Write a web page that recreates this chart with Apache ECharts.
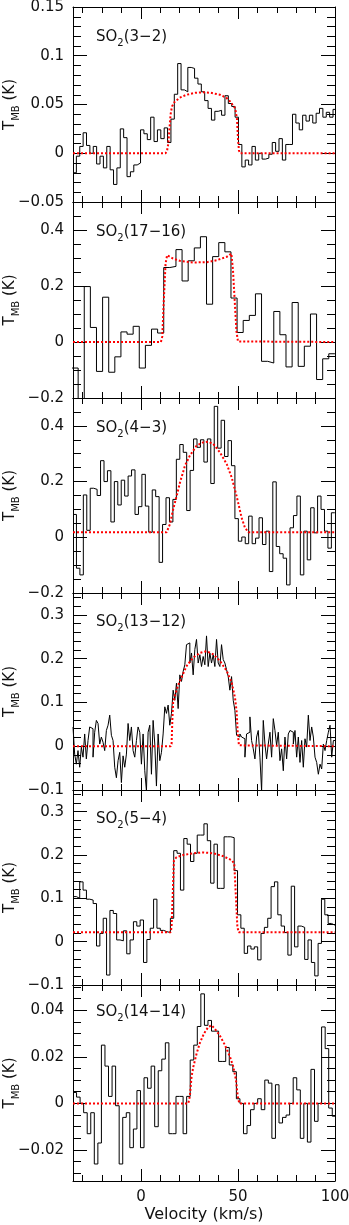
<!DOCTYPE html>
<html>
<head>
<meta charset="utf-8">
<script src="https://cdn.jsdelivr.net/npm/echarts@6/dist/echarts.min.js"></script>
<style>
  html, body { margin: 0; padding: 0; background: #fff; }
  #chart { width: 349px; height: 1225px; }
</style>
</head>
<body>
<div id="chart"></div>
<script>
// channel grid of each spectrum: [left edge of first channel, channel width] (km/s)
const so2_32_grid = [-35, 1.74];
const so2_1716_grid = [-35.5, 3.15];
const so2_43_grid = [-35, 1.775];
const so2_1312_grid = [-35, 0.86];
const so2_54_grid = [-35, 1.73];
const so2_1414_grid = [-35, 1.83];

// T_MB (K) per channel
const so2_32_tmb = [-0.02, -0.003, 0.007, 0.021, 0.008, 0.0, 0.007, -0.011, -0.003, -0.015,
  0.007, -0.017, -0.032, -0.015, 0.025, 0.016, -0.024, -0.019, -0.012, -0.01,
  0.024, 0.02, 0.014, 0.037, 0.012, 0.024, 0.015, 0.026, 0.011, 0.035,
  0.0605, 0.092, 0.065, 0.063, 0.088, 0.087, 0.077, 0.071, 0.063, 0.054,
  0.046, 0.034, 0.043, 0.044, 0.039, 0.059, 0.051, 0.048, 0.037, 0.009,
  -0.014, -0.007, -0.012, 0.007, -0.007, 0.0, -0.006, -0.005, -0.001, 0.011,
  0.002, 0.015, -0.007, 0.009, 0.009, 0.04, 0.031, 0.024, 0.039, 0.033,
  0.039, 0.031, 0.041, 0.046, 0.037, 0.042, 0.037, 0.045];

const so2_1716_tmb = [-0.093, -0.25, 0.198, 0.052, -0.105, 0.16, -0.108, -0.053, 0.036, 0.028,
  0.056, -0.093, -0.012, 0.046, 0.032, 0.266, 0.27, 0.33, 0.218, 0.29,
  0.336, 0.376, 0.135, 0.305, 0.355, 0.322, 0.157, 0.034, 0.077, 0.095,
  0.172, -0.069, -0.075, 0.109, 0.026, -0.089, 0.141, -0.087, -0.015, 0.1,
  -0.134, -0.06, -0.042];

const so2_43_tmb = [0.082, -0.111, -0.135, 0.152, 0.025, 0.176, 0.172, 0.15, 0.275, 0.2,
  0.239, 0.055, 0.2, 0.116, 0.205, 0.148, 0.22, 0.242, 0.082, 0.11,
  0.226, 0.112, 0.018, 0.17, 0.146, -0.09, 0.046, 0.142, 0.055, 0.136,
  0.28, 0.333, 0.305, 0.096, 0.24, 0.353, 0.323, 0.35, 0.27, 0.353,
  0.193, 0.47, 0.32, 0.42, 0.29, 0.347, 0.257, 0.067, -0.014, 0.001,
  -0.023, 0.076, -0.023, -0.003, 0.07, -0.026, 0.022, -0.123, 0.199, -0.033,
  -0.059, -0.075, -0.171, 0.034, 0.078, 0.148, -0.135, 0.022, -0.081, 0.106,
  0.016, 0.148, 0.1, 0.022, -0.039, 0.088];

const so2_1312_tmb = [0.044, -0.018, -0.041, -0.01, -0.048, -0.002,
  -0.025, 0.028, -0.029, 0.013, 0.044, 0.04, -0.025, 0.032, 0.059, 0.052, 0.005,
  0.021, 0.009, -0.01, 0.036, 0.048, 0.071, 0.025, 0.013, -0.048, -0.072, -0.033,
  -0.014, -0.083, -0.022, -0.048, -0.018, 0.052, 0.013, 0.044, -0.01, -0.025, 0.013,
  0.044, 0.032, -0.041, 0.028, -0.056, -0.102, 0.032, 0.048, -0.064, 0.059, 0.005,
  -0.091, 0.028, -0.033, -0.014, 0.028, 0.09, 0.075, 0.094, 0.048, 0.075,
  0.128, 0.105, 0.144, 0.086, 0.163, 0.148, 0.171, 0.186, 0.232, 0.236,
  0.19, 0.213, 0.163, 0.221, 0.244, 0.19, 0.209, 0.182, 0.205, 0.186,
  0.252, 0.182, 0.213, 0.19, 0.209, 0.182, 0.244, 0.19, 0.182, 0.232,
  0.198, 0.19, 0.175, 0.159, 0.128, 0.159, 0.105, 0.082, 0.025, 0.021,
  0.028, 0.021, 0.017, -0.025, 0.028, 0.032, 0.067, 0.013, -0.006, -0.029,
  0.021, 0.036, -0.025, -0.102, 0.059, 0.005, -0.029, 0.005, 0.032, -0.025,
  0.063, 0.036, 0.002, 0.032, -0.033, -0.006, -0.056, 0.021, -0.029, 0.028,
  0.036, 0.032, 0.005, 0.036, -0.025, 0.021, -0.037, 0.013, -0.048, 0.017,
  -0.002, 0.071, 0.013, 0.044, 0.021, -0.025, -0.037, -0.064, -0.041, -0.052,
  0.005, -0.01, 0.013, 0.032, 0.048, -0.025, 0.013];

const so2_54_tmb = [0.104, 0.1, 0.138, 0.119, 0.098, 0.096, 0.088, -0.01, 0.019, 0.054,
  -0.077, 0.072, 0.065, 0.004, 0.002, 0.025, -0.028, 0.004, 0.046, 0.036,
  0.05, -0.048, 0.005, 0.031, 0.098, 0.031, 0.026, 0.023, 0.021, 0.054,
  0.21, 0.204, 0.119, 0.238, 0.225, 0.185, 0.204, 0.246, 0.246, 0.272,
  0.233, 0.135, 0.225, 0.123, 0.123, 0.242, 0.242, 0.24, 0.164, 0.062,
  0.031, -0.027, -0.01, -0.017, -0.012, -0.042, 0.019, 0.033, 0.054, 0.127,
  0.138, 0.062, 0.036, 0.021, -0.031, 0.128, -0.012, 0.036, 0.033, -0.041,
  0.004, -0.048, -0.079, -0.004, 0.098, 0.062, 0.042, 0.038];

const so2_1414_tmb = [0.0047, 0.0027, 0.0, -0.004, -0.013, -0.004, -0.026, -0.017, 0.025, 0.016,
  0.003, 0.016, -0.001, -0.026, -0.006, -0.004, -0.019, -0.011, 0.0055, -0.019,
  0.011, 0.0065, 0.016, -0.01, 0.014, 0.019, 0.026, -0.013, -0.013, 0.003,
  0.003, -0.013, 0.003, 0.0186, 0.025, 0.033, 0.047, 0.0335, 0.0356, 0.031,
  0.031, 0.018, 0.018, 0.024, 0.0165, 0.0136, 0.002, 0.0, -0.013, -0.0095,
  -0.0027, 0.0, 0.002, -0.0027, 0.01, 0.0087, -0.015, 0.008, -0.0084, -0.006,
  -0.005, 0.0, 0.011, 0.0058, -0.015, 0.0, -0.0166, 0.0146, -0.0077, 0.0,
  0.0328, 0.0235, -0.002, -0.0055];

// model fits (red dotted), [velocity, T_MB]
const so2_32_fit = [[-35, 0], [12.7, 0], [13.5, 0.003], [14.1, 0.01], [14.7, 0.025], [15.3, 0.04],
  [16, 0.048], [17.5, 0.053], [20, 0.057], [23.5, 0.06], [28, 0.062], [32, 0.0625], [36, 0.062],
  [40.7, 0.06], [44, 0.057], [46, 0.053], [48.6, 0.046], [49.5, 0.035], [50, 0.015], [50.5, 0.003],
  [51.1, 0], [100, 0]];
const so2_1716_fit = [[-35, 0], [10.3, 0], [11, 0.02], [11.8, 0.15], [12.7, 0.28], [13.5, 0.31],
  [14.4, 0.312], [16.6, 0.298], [20, 0.29], [27, 0.284], [34, 0.285], [39, 0.292], [44.2, 0.304],
  [46.6, 0.316], [47.4, 0.26], [48.3, 0.15], [49.2, 0.04], [50, 0.002], [50.5, 0], [100, 0]];
const so2_43_fit = [[-35, 0.018], [13.2, 0.018], [14.9, 0.046], [16.6, 0.1], [18.4, 0.148],
  [20.1, 0.196], [22.7, 0.257], [25.2, 0.293], [28.7, 0.329], [32.1, 0.341], [34.7, 0.343],
  [37.3, 0.335], [40.7, 0.305], [44.2, 0.263], [46.8, 0.214], [49.3, 0.148], [51.9, 0.07],
  [53.6, 0.034], [55.4, 0.018], [100, 0.018]];
const so2_1312_fit = [[-35, 0], [15.3, 0], [15.8, 0.005], [16.2, 0.06], [16.6, 0.1], [17.5, 0.115],
  [19.2, 0.14], [21.5, 0.163], [23.5, 0.183], [27, 0.203], [30.4, 0.213], [33.8, 0.217],
  [37.3, 0.21], [40.7, 0.195], [44.2, 0.172], [46.8, 0.145], [48.5, 0.11], [49.3, 0.08],
  [49.9, 0.03], [50.5, 0.002], [51, 0], [100, 0]];
const so2_54_fit = [[-35, 0.0215], [15.3, 0.0215], [15.8, 0.034], [16.3, 0.098], [17, 0.188],
  [18.4, 0.195], [21.8, 0.2], [27, 0.204], [32.1, 0.206], [37.3, 0.204], [42.5, 0.197],
  [46.8, 0.188], [48.1, 0.18], [49, 0.098], [49.7, 0.034], [50.4, 0.0215], [100, 0.0215]];
const so2_1414_fit = [[-35, 0], [24.4, 0], [25.2, 0.003], [26.1, 0.0115], [27, 0.0157],
  [28.7, 0.0214], [30.4, 0.026], [32.5, 0.03], [34.7, 0.0328], [36.4, 0.0335], [38.1, 0.032],
  [40.7, 0.029], [43.3, 0.025], [45.9, 0.02], [47.6, 0.0157], [49, 0.01], [49.9, 0.003],
  [50.7, 0], [100, 0]];

// tick values
const velMajor = [0, 50, 100];
const velMinor = [-30, -20, -10, 10, 20, 30, 40, 60, 70, 80, 90];
const p1Major = [-0.05, 0, 0.05, 0.1, 0.15];
const p1Minor = [-0.04, -0.03, -0.02, -0.01, 0.01, 0.02, 0.03, 0.04, 0.06, 0.07, 0.08, 0.09,
  0.11, 0.12, 0.13, 0.14];
const p23Major = [-0.2, 0, 0.2, 0.4];
const p23Minor = [-0.15, -0.1, -0.05, 0.05, 0.1, 0.15, 0.25, 0.3, 0.35, 0.45];
const p45Major = [-0.1, 0, 0.1, 0.2, 0.3];
const p45Minor = [-0.08, -0.06, -0.04, -0.02, 0.02, 0.04, 0.06, 0.08, 0.12, 0.14, 0.16, 0.18,
  0.22, 0.24, 0.26, 0.28, 0.32, 0.34];
const p6Major = [-0.02, 0, 0.02, 0.04];
const p6Minor = [-0.03, -0.025, -0.015, -0.01, -0.005, 0.005, 0.01, 0.015, 0.025, 0.03, 0.035,
  0.045, 0.05];

const panels = [
  { label: '{t|SO}{s|2}{t|(3\u22122)}', grid: so2_32_grid, tmb: so2_32_tmb, fit: so2_32_fit, yMin: -0.05, yMax: 0.15, major: p1Major, minor: p1Minor },
  { label: '{t|SO}{s|2}{t|(17\u221216)}', grid: so2_1716_grid, tmb: so2_1716_tmb, fit: so2_1716_fit, yMin: -0.2, yMax: 0.5, major: p23Major, minor: p23Minor },
  { label: '{t|SO}{s|2}{t|(4\u22123)}', grid: so2_43_grid, tmb: so2_43_tmb, fit: so2_43_fit, yMin: -0.2, yMax: 0.5, major: p23Major, minor: p23Minor },
  { label: '{t|SO}{s|2}{t|(13\u221212)}', grid: so2_1312_grid, tmb: so2_1312_tmb, fit: so2_1312_fit, yMin: -0.1, yMax: 0.35, major: p45Major, minor: p45Minor },
  { label: '{t|SO}{s|2}{t|(5\u22124)}', grid: so2_54_grid, tmb: so2_54_tmb, fit: so2_54_fit, yMin: -0.1, yMax: 0.35, major: p45Major, minor: p45Minor },
  { label: '{t|SO}{s|2}{t|(14\u221214)}', grid: so2_1414_grid, tmb: so2_1414_tmb, fit: so2_1414_fit, yMin: -0.0333, yMax: 0.0508, major: p6Major, minor: p6Minor }
];

const panelTops = [7, 202, 398, 593, 790, 985, 1181];
const labelOffsets = [30, 30, 30, 29, 29, 27];
const FONT = 'DejaVu Sans';
const INK = '#111';
const line1 = { color: '#000', width: 1 };
const subRich = {
  t: { fontSize: 15, lineHeight: 22, fontFamily: FONT, fill: INK },
  s: { fontSize: 10, lineHeight: 12, verticalAlign: 'bottom', fontFamily: FONT, fill: INK }
};

function histogram(grid, vals) {
  // channel edges + step:'end' gives a histogram trace
  const out = [];
  for (let k = 0; k < vals.length; k++) {
    out.push([+(grid[0] + k * grid[1]).toFixed(3), vals[k]]);
  }
  out.push([+(grid[0] + vals.length * grid[1]).toFixed(3), vals[vals.length - 1]]);
  return out;
}

function fmt(v) {
  return String(+v.toFixed(4)).replace('-', '\u2212');
}

const grids = [], xAxes = [], yAxes = [], series = [], graphics = [];

panels.forEach(function (p, i) {
  const top = panelTops[i];
  const h = panelTops[i + 1] - top;
  const last = i === panels.length - 1;
  grids.push({ left: 73, right: 14, top: top, height: h, containLabel: false, outerBoundsMode: 'none' });

  const xb = { gridIndex: i, type: 'value', min: -35, max: 100, splitLine: { show: false } };
  xAxes.push(Object.assign({}, xb, {
    position: 'bottom',
    axisLine: { show: true, onZero: false, lineStyle: line1 },
    axisTick: { show: true, inside: true, length: 12, customValues: velMajor, lineStyle: line1 },
    axisLabel: { show: last, customValues: velMajor, margin: 9, color: INK, fontFamily: FONT, fontSize: 15 },
    name: last ? 'Velocity (km/s)' : '',
    nameLocation: 'middle',
    nameGap: 26,
    nameTextStyle: { color: INK, fontFamily: FONT, fontSize: 16 }
  }));
  xAxes.push(Object.assign({}, xb, {
    position: 'bottom',
    axisLine: { show: false, onZero: false },
    axisTick: { show: true, inside: true, length: 6, customValues: velMinor, lineStyle: line1 },
    axisLabel: { show: false }
  }));
  xAxes.push(Object.assign({}, xb, {
    position: 'top',
    axisLine: { show: true, onZero: false, lineStyle: line1 },
    axisTick: { show: true, inside: true, length: 12, customValues: velMajor, lineStyle: line1 },
    axisLabel: { show: false }
  }));
  xAxes.push(Object.assign({}, xb, {
    position: 'top',
    axisLine: { show: false, onZero: false },
    axisTick: { show: true, inside: true, length: 6, customValues: velMinor, lineStyle: line1 },
    axisLabel: { show: false }
  }));

  const yb = { gridIndex: i, type: 'value', min: p.yMin, max: p.yMax, splitLine: { show: false } };
  yAxes.push(Object.assign({}, yb, {
    position: 'left',
    axisLine: { show: true, onZero: false, lineStyle: line1 },
    axisTick: { show: true, inside: true, length: 14, customValues: p.major, lineStyle: line1 },
    axisLabel: { show: true, customValues: p.major, formatter: fmt, margin: 9, color: INK, fontFamily: FONT, fontSize: 15 }
  }));
  yAxes.push(Object.assign({}, yb, {
    position: 'left',
    axisLine: { show: false, onZero: false },
    axisTick: { show: true, inside: true, length: 8, customValues: p.minor, lineStyle: line1 },
    axisLabel: { show: false }
  }));
  yAxes.push(Object.assign({}, yb, {
    position: 'right',
    axisLine: { show: true, onZero: false, lineStyle: line1 },
    axisTick: { show: true, inside: true, length: 14, customValues: p.major, lineStyle: line1 },
    axisLabel: { show: false }
  }));
  yAxes.push(Object.assign({}, yb, {
    position: 'right',
    axisLine: { show: false, onZero: false },
    axisTick: { show: true, inside: true, length: 8, customValues: p.minor, lineStyle: line1 },
    axisLabel: { show: false }
  }));

  series.push({
    type: 'line',
    xAxisIndex: 4 * i,
    yAxisIndex: 4 * i,
    step: 'end',
    symbol: 'none',
    clip: true,
    lineStyle: { color: '#000', width: 1 },
    data: histogram(p.grid, p.tmb),
    z: 2
  });
  series.push({
    type: 'line',
    xAxisIndex: 4 * i,
    yAxisIndex: 4 * i,
    symbol: 'none',
    clip: true,
    lineStyle: { color: '#ff0000', width: 2, type: [2, 2] },
    data: p.fit,
    z: 3
  });

  // panel label
  graphics.push({
    type: 'text',
    x: 96,
    y: top + labelOffsets[i],
    style: {
      text: p.label,
      fill: INK,
      fontFamily: FONT,
      fontSize: 15,
      verticalAlign: 'middle',
      rich: subRich
    }
  });
  // y axis title, rotated
  graphics.push({
    type: 'text',
    x: 10,
    y: top + h / 2,
    rotation: Math.PI / 2,
    style: {
      text: '{t|T}{s|MB}{t| (K)}',
      fill: INK,
      fontFamily: FONT,
      fontSize: 15,
      align: 'center',
      verticalAlign: 'middle',
      rich: subRich
    }
  });
});

const chart = echarts.init(document.getElementById('chart'));
chart.setOption({
  animation: false,
  backgroundColor: '#fff',
  grid: grids,
  xAxis: xAxes,
  yAxis: yAxes,
  series: series,
  graphic: graphics
});
</script>
</body>
</html>
